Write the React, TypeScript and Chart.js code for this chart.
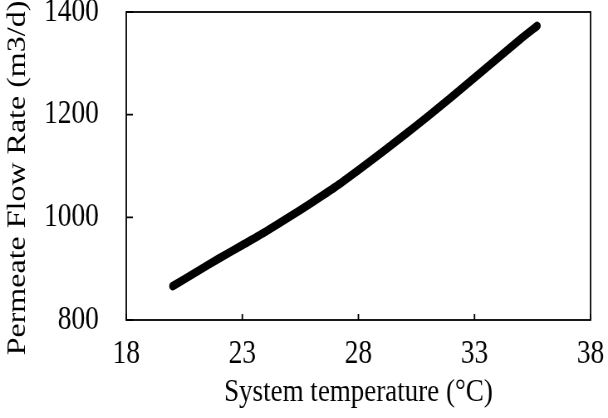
import { useEffect, useRef } from 'react'
import { Chart, registerables } from 'chart.js'

Chart.register(...registerables)

// system temperature (°C)
const temperatures = [20, 21, 22, 23, 24, 25, 26, 27, 28, 29, 30, 31, 32, 33, 34, 35, 35.7]
// permeate flow rate (m3/d)
const flowRates = [866, 893, 920, 946, 972, 1000, 1029, 1059, 1092, 1126, 1161, 1197, 1234, 1272, 1310, 1348, 1373]

const xTicks = [18, 23, 28, 33, 38]
const yTicks = [800, 1000, 1200, 1400]

const yTitle = 'Permeate Flow Rate (m3/d)'
const xTitle = 'System temperature (°C)'

const FONT = '"Liberation Serif", "Times New Roman", serif'

// the reference figure is squeezed horizontally, so draw wider and scale down
const INNER_W = 732
const SQUEEZE = 608 / INNER_W

// frame around the plot, short inward tick marks and the y title
const framePlugin = {
  id: 'frame',
  afterDraw(chart: Chart) {
    const { ctx, chartArea, scales } = chart
    const { left, right, top, bottom } = chartArea
    ctx.save()
    ctx.strokeStyle = '#000'
    ctx.lineWidth = 1.8
    ctx.strokeRect(left, top, right - left, bottom - top)
    ctx.beginPath()
    xTicks.forEach((v) => {
      const px = scales.x.getPixelForValue(v)
      ctx.moveTo(px, bottom)
      ctx.lineTo(px, bottom - 6)
    })
    yTicks.forEach((v) => {
      const py = scales.y.getPixelForValue(v)
      ctx.moveTo(left, py)
      ctx.lineTo(left + 8, py)
    })
    ctx.stroke()

    // y title sits a little below the plot centre in the original
    ctx.translate(30, (top + bottom) / 2 + 12)
    ctx.rotate(-Math.PI / 2)
    ctx.fillStyle = '#000'
    ctx.font = `32px ${FONT}`
    ctx.textAlign = 'center'
    ctx.textBaseline = 'alphabetic'
    ctx.fillText(yTitle, 0, 0)
    ctx.restore()
  },
}

export default function App() {
  const chartRef = useRef<HTMLCanvasElement>(null)
  const chartInstance = useRef<Chart | null>(null)

  useEffect(() => {
    document.body.style.margin = '0'
    if (!chartRef.current) return
    const ctx = chartRef.current.getContext('2d')
    if (!ctx) return

    chartInstance.current = new Chart(ctx, {
      type: 'line',
      data: {
        datasets: [
          {
            data: temperatures.map((t, i) => ({ x: t, y: flowRates[i] })),
            borderColor: '#000',
            borderWidth: 8.5,
            borderCapStyle: 'round',
            borderJoinStyle: 'round',
            pointRadius: 0,
            tension: 0.2,
            fill: false,
          },
        ],
      },
      options: {
        animation: false,
        responsive: true,
        maintainAspectRatio: false,
        layout: { padding: { top: 12, right: 21, left: 0, bottom: 0 } },
        plugins: {
          legend: { display: false },
          tooltip: { enabled: false },
        },
        scales: {
          x: {
            type: 'linear',
            min: 18,
            max: 38,
            afterBuildTicks: (scale) => {
              scale.ticks = xTicks.map((v) => ({ value: v }))
            },
            afterFit: (scale) => {
              scale.height = 98
              scale.paddingLeft = 0
              scale.paddingRight = 0
            },
            grid: { display: false, drawTicks: false },
            border: { display: false },
            ticks: {
              color: '#000',
              padding: 15,
              font: { family: FONT, size: 33 },
              callback: (v) => String(v),
            },
            title: {
              display: true,
              text: xTitle,
              color: '#000',
              font: { family: FONT, size: 32.5 },
              padding: { top: 0, bottom: 6 },
            },
          },
          y: {
            type: 'linear',
            min: 800,
            max: 1400,
            afterBuildTicks: (scale) => {
              scale.ticks = yTicks.map((v) => ({ value: v }))
            },
            afterFit: (scale) => {
              scale.width = 152
              scale.paddingTop = 0
              scale.paddingBottom = 0
            },
            grid: { display: false, drawTicks: false },
            border: { display: false },
            ticks: {
              color: '#000',
              padding: 33,
              font: { family: FONT, size: 33 },
              callback: (v) => String(v),
            },
          },
        },
      },
      plugins: [framePlugin],
    })

    return () => {
      if (chartInstance.current) {
        chartInstance.current.destroy()
        chartInstance.current = null
      }
    }
  }, [])

  return (
    <div style={{ width: 608, height: 418, overflow: 'hidden', background: '#fff' }}>
      <div
        style={{
          position: 'relative',
          width: INNER_W,
          height: 418,
          transform: `scaleX(${SQUEEZE})`,
          transformOrigin: '0 0',
        }}
      >
        <canvas ref={chartRef} />
      </div>
    </div>
  )
}
